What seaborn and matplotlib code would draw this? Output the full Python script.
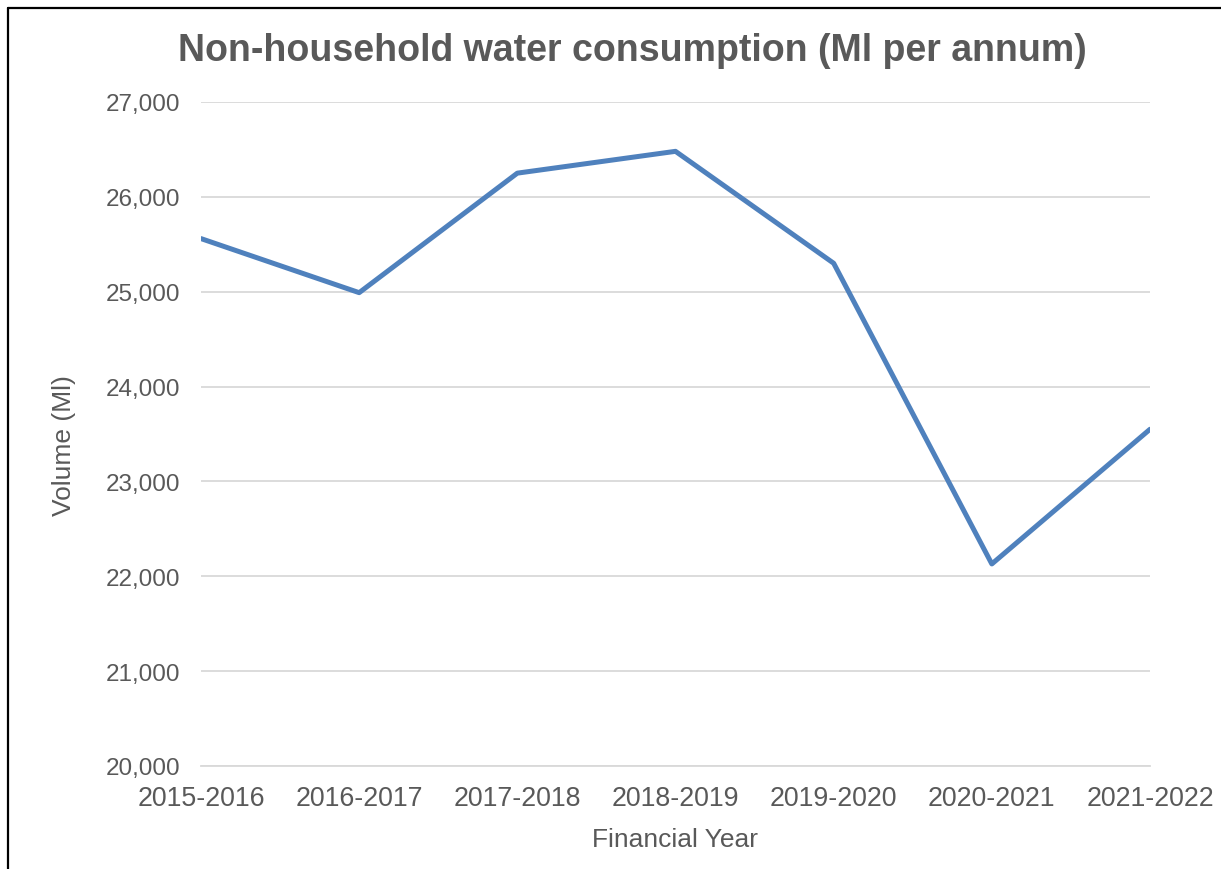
import matplotlib
matplotlib.use("Agg")
import matplotlib.pyplot as plt
from matplotlib.lines import Line2D
from matplotlib.ticker import FuncFormatter
import pandas as pd
import seaborn as sns

# data
years = ["2015-2016", "2016-2017", "2017-2018", "2018-2019",
         "2019-2020", "2020-2021", "2021-2022"]
volume_ml = [25560, 24990, 26250, 26480, 25300, 22130, 23550]

df = pd.DataFrame({"Financial Year": years, "Volume (Ml)": volume_ml})

sns.set_theme(style="white")
plt.rcParams["font.family"] = ["Liberation Sans", "DejaVu Sans"]

W, H = 1221, 870
fig = plt.figure(figsize=(W / 100, H / 100), dpi=100)
ax = fig.add_axes([201 / W, 1 - 767 / H, (1150 - 201) / W, (767 - 103) / H])

text_col = "#595959"
grid_col = "#D9D9D9"

sns.lineplot(data=df, x="Financial Year", y="Volume (Ml)", ax=ax,
             color="#4F81BD", linewidth=3.6, sort=False)

ax.set_xlim(0, len(years) - 1)
ax.set_ylim(20000, 27000)
ax.set_yticks(range(20000, 27001, 1000))
ax.yaxis.set_major_formatter(FuncFormatter(lambda v, p: f"{int(v):,}"))
ax.grid(axis="y", color=grid_col, linewidth=1.3)
ax.set_axisbelow(True)

for s in ["top", "right", "left"]:
    ax.spines[s].set_visible(False)
ax.spines["bottom"].set_color(grid_col)
ax.spines["bottom"].set_linewidth(1.3)

ax.tick_params(axis="x", direction="inout", length=11, width=1.1, color=grid_col,
               labelsize=19.3, labelcolor=text_col, pad=8)
ax.tick_params(axis="y", length=0, labelsize=17.5, labelcolor=text_col, pad=15)

ax.set_xlabel("Financial Year", fontsize=19, color=text_col, labelpad=12)
ax.set_ylabel("Volume (Ml)", fontsize=19, color=text_col)
ax.yaxis.set_label_coords(76 / W, 1 - 446 / H, transform=fig.transFigure)

fig.text(632 / W, 1 - 51 / H, "Non-household water consumption (Ml per annum)",
         ha="center", va="center", fontsize=27, fontweight="bold", color=text_col)

# chart border (only top and left visible in the source)
fig.add_artist(Line2D([8 / W, 1.0], [1 - 9 / H, 1 - 9 / H], color="black", linewidth=1.6))
fig.add_artist(Line2D([8 / W, 8 / W], [0.0, 1 - 9 / H], color="black", linewidth=1.6))

fig.savefig("out.png", dpi=100, facecolor="white")
